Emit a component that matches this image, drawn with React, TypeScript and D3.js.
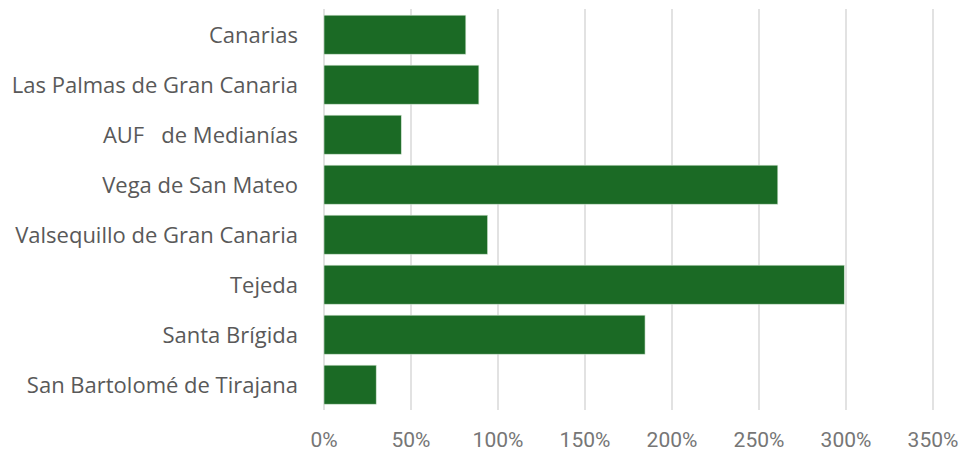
import React from "react";
import * as d3 from "d3";

const categories = [
  "Canarias",
  "Las Palmas de Gran Canaria",
  "AUF   de Medianías",
  "Vega de San Mateo",
  "Valsequillo de Gran Canaria",
  "Tejeda",
  "Santa Brígida",
  "San Bartolomé de Tirajana",
];
const values = [0.815, 0.89, 0.444, 2.608, 0.94, 2.99, 1.845, 0.30];
const ticks = [0, 0.5, 1, 1.5, 2, 2.5, 3, 3.5];

export default function App() {
  const W = 963, H = 451;
  const x = d3.scaleLinear().domain([0, 3.5]).range([324, 933]);
  const y = d3.scaleBand<string>().domain(categories).range([9.7, 409.7]).paddingInner(0.22).paddingOuter(0.11);
  const font = "'Open Sans', 'Noto Sans', sans-serif";
  return (
    <svg width={W} height={H} style={{ position: "absolute", left: 0, top: 0, background: "#fff" }}>
      {ticks.map((t) => (
        <line key={"g" + t} x1={x(t)} x2={x(t)} y1={9} y2={410} stroke="#d9d9d9" strokeWidth={1.5} />
      ))}
      {categories.map((c, i) => (
        <rect key={c} x={x(0)} y={y(c)} width={x(values[i]) - x(0)} height={y.bandwidth()} fill="#1b6a25" stroke="#cfe3cf" strokeWidth={0.6} />
      ))}
      {categories.map((c) => (
        <text key={"l" + c} x={298} y={(y(c) as number) + y.bandwidth() / 2} dy="0.36em" textAnchor="end"
          fontFamily={font} fontSize={22} fill="#595959" style={{ whiteSpace: "pre" }}>{c}</text>
      ))}
      {ticks.map((t) => (
        <text key={"t" + t} x={x(t)} y={439} dy="0.36em" textAnchor="middle" fontFamily="Roboto, sans-serif" fontSize={21} fill="#767676">
          {d3.format(".0%")(t)}
        </text>
      ))}
    </svg>
  );
}
